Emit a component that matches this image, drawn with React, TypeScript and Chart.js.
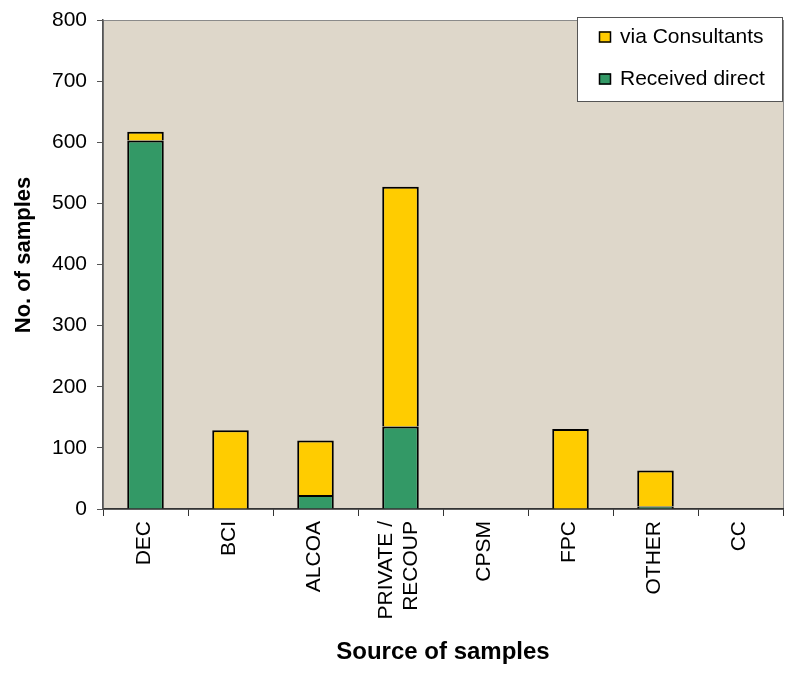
import React, { useEffect, useRef } from "react";
import { Chart, registerables } from "chart.js";

Chart.register(...registerables);

const categories: string[][] = [["DEC"], ["BCI"], ["ALCOA"], ["PRIVATE /", "RECOUP"], ["CPSM"], ["FPC"], ["OTHER"], ["CC"]];
const receivedDirect = [603, 0, 23, 135, 0, 0, 4, 0];
const viaConsultants = [14, 129, 89, 392, 0, 131, 59, 0];
const yTicks = [0, 100, 200, 300, 400, 500, 600, 700, 800];
const xTitle = "Source of samples";
const yTitle = "No. of samples";

const GREEN = "#339966";
const YELLOW = "#FFCC00";
const FONT = "'Liberation Sans', Arial, sans-serif";

const bgPlugin = {
  id: "bgPlugin",
  beforeDraw(chart: any) {
    const { ctx, chartArea } = chart;
    const { left, top, right, bottom } = chartArea;
    ctx.save();
    ctx.fillStyle = "#DED7CA";
    ctx.fillRect(left, top, right - left, bottom - top);
    ctx.strokeStyle = "#8a8a8a";
    ctx.lineWidth = 1;
    ctx.strokeRect(left + 0.5, top + 0.5, right - left, bottom - top);
    ctx.restore();
  },
};

const textPlugin = {
  id: "textPlugin",
  afterDraw(chart: any) {
    const { ctx, chartArea } = chart;
    const xs = chart.scales.x;
    ctx.save();
    ctx.fillStyle = "#000";
    ctx.font = `21px ${FONT}`;
    ctx.textAlign = "right";
    ctx.textBaseline = "middle";
    const lh = 25;
    categories.forEach((lines, i) => {
      const px = xs.getPixelForTick(i);
      const shift = lines.length > 1 ? -2 : -1;
      ctx.save();
      ctx.translate(px + shift, chartArea.bottom + 12);
      ctx.rotate(-Math.PI / 2);
      lines.forEach((ln, j) => {
        ctx.fillText(ln, 0, (j - (lines.length - 1) / 2) * lh);
      });
      ctx.restore();
    });
    ctx.font = `bold 24px ${FONT}`;
    ctx.textAlign = "center";
    ctx.fillText(xTitle, (chartArea.left + chartArea.right) / 2, 652);
    ctx.save();
    ctx.font = `bold 22px ${FONT}`;
    ctx.translate(24, 255);
    ctx.rotate(-Math.PI / 2);
    ctx.fillText(yTitle, 0, 0);
    ctx.restore();
    ctx.restore();
  },
};

const legendPlugin = {
  id: "boxLegend",
  afterDraw(chart: any) {
    const { ctx, chartArea } = chart;
    const x1 = 577;
    const y1 = 17;
    const x2 = chartArea.right;
    const y2 = 102;
    ctx.save();
    ctx.fillStyle = "#ffffff";
    ctx.fillRect(x1, y1, x2 - x1, y2 - y1);
    ctx.strokeStyle = "#555555";
    ctx.lineWidth = 1;
    ctx.strokeRect(x1 + 0.5, y1 + 0.5, x2 - x1 - 1, y2 - y1 - 1);
    const items = [
      { label: "via Consultants", color: YELLOW, y: 37 },
      { label: "Received direct", color: GREEN, y: 79 },
    ];
    ctx.font = `21px ${FONT}`;
    ctx.textBaseline = "middle";
    ctx.textAlign = "left";
    for (const it of items) {
      ctx.fillStyle = it.color;
      ctx.fillRect(599, it.y - 5.5, 12, 11);
      ctx.strokeStyle = "#000";
      ctx.lineWidth = 1.5;
      ctx.strokeRect(599.5, it.y - 5, 11, 10);
      ctx.fillStyle = "#000";
      ctx.fillText(it.label, 620, it.y);
    }
    ctx.restore();
  },
};

export default function App() {
  const ref = useRef<HTMLCanvasElement | null>(null);
  useEffect(() => {
    if (!ref.current) return;
    const chart = new Chart(ref.current, {
      type: "bar",
      data: {
        labels: categories.map((c) => c.join(" ")),
        datasets: [
          {
            label: "Received direct",
            data: receivedDirect,
            backgroundColor: GREEN,
            borderColor: "#000",
            borderWidth: 2,
            categoryPercentage: 1,
            barPercentage: 0.43,
          },
          {
            label: "via Consultants",
            data: viaConsultants,
            backgroundColor: YELLOW,
            borderColor: "#000",
            borderWidth: 2,
            categoryPercentage: 1,
            barPercentage: 0.43,
          },
        ],
      },
      options: {
        animation: false,
        responsive: false,
        maintainAspectRatio: false,
        layout: { padding: { top: 20, right: 4, left: 0, bottom: 0 } },
        plugins: {
          legend: { display: false },
          tooltip: { enabled: false },
        },
        scales: {
          x: {
            stacked: true,
            offset: true,
            grid: {
              offset: true,
              drawOnChartArea: false,
              drawTicks: true,
              tickLength: 7,
              color: "#333",
            },
            border: { color: "#333", width: 1.5 },
            ticks: { display: false },
            afterFit(scale: any) {
              scale.height = 675 - 509;
              scale.paddingLeft = 0;
              scale.paddingRight = 0;
            },
          },
          y: {
            stacked: true,
            min: 0,
            max: 800,
            afterBuildTicks(scale: any) {
              scale.ticks = yTicks.map((v) => ({ value: v }));
            },
            grid: {
              drawOnChartArea: false,
              drawTicks: true,
              tickLength: 6,
              color: "#555",
            },
            border: { color: "#555", width: 1.5 },
            ticks: {
              color: "#000",
              font: { family: FONT, size: 21 },
              padding: 10,
            },
            afterFit(scale: any) {
              scale.width = 103;
              scale.paddingTop = 0;
              scale.paddingBottom = 0;
            },
          },
        },
      },
      plugins: [bgPlugin, textPlugin, legendPlugin],
    });
    return () => chart.destroy();
  }, []);
  return (
    <div style={{ position: "fixed", left: 0, top: 0, width: 787, height: 675, background: "#fff" }}>
      <canvas ref={ref} width={787} height={675} style={{ width: 787, height: 675 }} />
    </div>
  );
}
